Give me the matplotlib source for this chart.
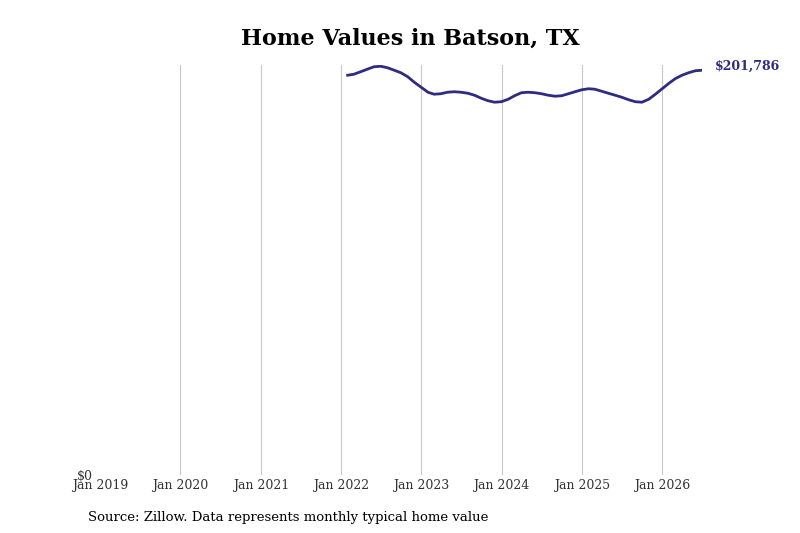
import matplotlib
matplotlib.use("Agg")
import matplotlib.pyplot as plt
import matplotlib.ticker as mticker
import pandas as pd

# ── data: Zillow typical home value, month-end ───────────────────────────────
dates = pd.date_range("2022-01-31", "2026-06-30", freq="ME")
values = [
    199296, 199794, 201040, 202285, 203531, 203780, 203033, 201787, 200542, 198549,
    195808, 193317, 190826, 189829, 190078, 190826, 191075, 190826, 190328, 189331,
    187836, 186591, 185844, 186093, 187338, 189082, 190577, 190826, 190577, 190078,
    189331, 188833, 189082, 190078, 191075, 192070, 192570, 192321, 191324, 190328,
    189331, 188335, 187089, 186093, 185844, 187338, 189829, 192570, 195310, 197552,
    199296, 200542, 201538, 201786,
]
tick_years = list(range(2019, 2027))
tick_labels = [f"Jan {y}" for y in tick_years]

line_color = "#2E2B82"

fig = plt.figure(figsize=(8, 5.33), dpi=100)
ax = fig.add_axes([0.125, 0.109, 0.7525, 0.769])

ax.plot(dates, values, color=line_color, linewidth=2)

ax.set_xlim(pd.Timestamp("2019-01-01"), dates[-1])
ax.set_ylim(0, max(values) * 1.003)

ax.set_xticks([pd.Timestamp(f"{y}-01-01") for y in tick_years])
ax.set_xticklabels(tick_labels, family="DejaVu Serif", fontsize=9, color="#333333")
ax.set_yticks([0])
ax.yaxis.set_major_formatter(mticker.FuncFormatter(lambda v, p: f"${v:,.0f}"))
for lbl in ax.get_yticklabels():
    lbl.set_family("DejaVu Serif")
    lbl.set_fontsize(9)
    lbl.set_color("#333333")

ax.tick_params(axis="both", length=0, pad=3)
ax.tick_params(axis="y", pad=5)
ax.grid(axis="x", color="#c8c8c8", linewidth=0.8)
ax.xaxis.get_gridlines()[0].set_visible(False)  # no line at the left edge
ax.set_axisbelow(True)
for s in ax.spines.values():
    s.set_visible(False)

ax.annotate(f"${values[-1]:,}", xy=(dates[-1], values[-1]), xytext=(9, 3),
            textcoords="offset points", ha="left", va="center",
            family="DejaVu Serif", fontsize=9, fontweight="bold", color=line_color)

fig.text(410 / 800, 1 - 39 / 533, "Home Values in Batson, TX", ha="center", va="center",
         family="DejaVu Serif", fontsize=16, fontweight="bold")
fig.text(88 / 800, 1 - 517 / 533, "Source: Zillow. Data represents monthly typical home value",
         ha="left", va="center", family="DejaVu Serif", fontsize=9.5)

fig.savefig("out.png", dpi=100)
